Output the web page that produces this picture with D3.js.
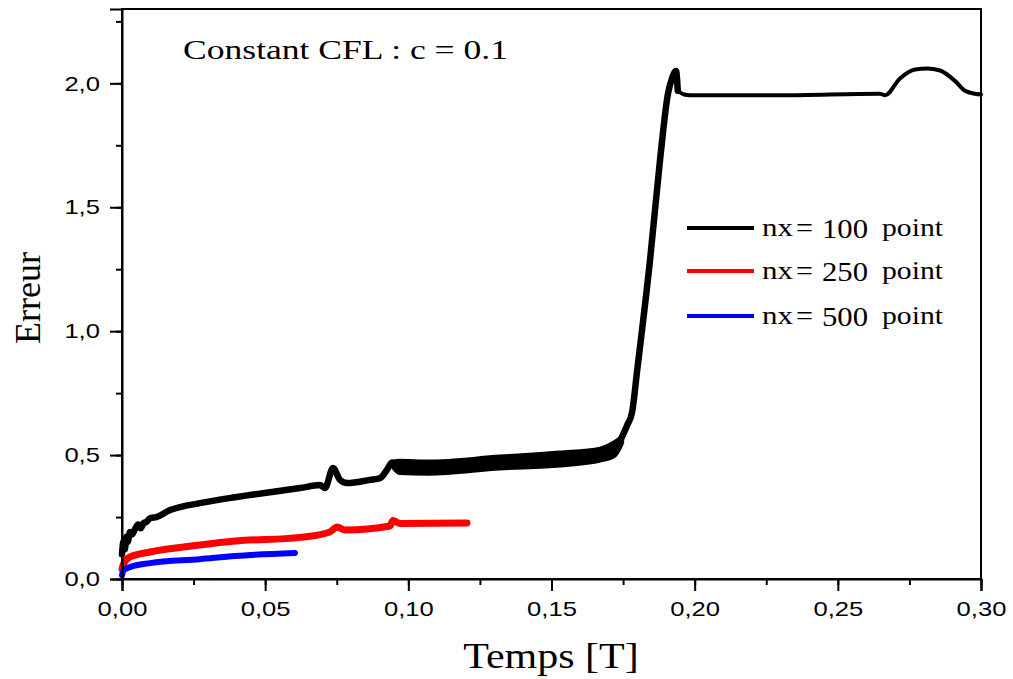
<!DOCTYPE html>
<html>
<head>
<meta charset="utf-8">
<script src="https://cdn.jsdelivr.net/npm/d3@7"></script>
<style>
html,body{margin:0;padding:0;background:#fff;}
svg{display:block;}
</style>
</head>
<body>
<svg id="chart" width="1013" height="679"></svg>
<script>
// ---- data ----
const xTicks = [0, 0.05, 0.10, 0.15, 0.20, 0.25, 0.30];
const xTickLabels = ["0,00", "0,05", "0,10", "0,15", "0,20", "0,25", "0,30"];
const yTicks = [0, 0.5, 1.0, 1.5, 2.0];
const yTickLabels = ["0,0", "0,5", "1,0", "1,5", "2,0"];

const seriesNames = ["nx = 100 point", "nx = 250 point", "nx = 500 point"];
const seriesColors = ["#000000", "#ff0000", "#0000ff"];

const blackT = [0, 0.0005, 0.001, 0.0015, 0.002, 0.0028, 0.0035, 0.0045, 0.0056, 0.0065, 0.0075, 0.0085, 0.0098, 0.012, 0.0168, 0.0272, 0.0395, 0.0447, 0.0622, 0.0691, 0.0709, 0.0737, 0.0761, 0.0786, 0.0866, 0.0901, 0.0925, 0.0943, 0.096, 0.107, 0.132, 0.153, 0.167, 0.172, 0.174, 0.1764, 0.1781, 0.1799, 0.1844, 0.1879, 0.1907, 0.1921, 0.1935, 0.1941, 0.1963, 0.1984, 0.23, 0.2647, 0.2665, 0.2717, 0.277, 0.2811, 0.2857, 0.2909, 0.2944, 0.2979, 0.30];
const blackE = [0.10, 0.15, 0.12, 0.17, 0.15, 0.19, 0.18, 0.20, 0.22, 0.205, 0.225, 0.23, 0.245, 0.25, 0.278, 0.306, 0.33, 0.339, 0.367, 0.379, 0.367, 0.448, 0.40, 0.387, 0.40, 0.407, 0.44, 0.47, 0.455, 0.45, 0.47, 0.484, 0.502, 0.53, 0.56, 0.62, 0.67, 0.84, 1.286, 1.69, 1.96, 2.02, 2.05, 1.97, 1.955, 1.952, 1.952, 1.958, 1.952, 2.02, 2.056, 2.06, 2.052, 2.01, 1.97, 1.958, 1.955];

// noisy band of the nx=100 run
const bandT  = [0.0943, 0.097, 0.107, 0.132, 0.153, 0.167, 0.172, 0.1745];
const bandLo = [0.46, 0.43, 0.427, 0.448, 0.46, 0.48, 0.50, 0.55];
const bandHi = [0.47, 0.475, 0.472, 0.492, 0.508, 0.524, 0.55, 0.57];

const redT = [0, 0.0005, 0.0028, 0.0098, 0.0272, 0.0395, 0.0622, 0.0726, 0.0751, 0.0779, 0.0936, 0.0946, 0.0971, 0.1205];
const redE = [0.04, 0.06, 0.089, 0.109, 0.137, 0.153, 0.168, 0.19, 0.21, 0.198, 0.214, 0.236, 0.224, 0.226];

const blueT = [0, 0.0005, 0.0028, 0.0098, 0.0272, 0.0395, 0.0604];
const blueE = [0.015, 0.035, 0.048, 0.064, 0.08, 0.093, 0.105];

// ---- layout ----
const svg = d3.select("#chart");
const L = 122, R = 981, T = 9, B = 579;
const x = d3.scaleLinear().domain([0, 0.30]).range([L, R]);
const y = d3.scaleLinear().domain([0, 2.3]).range([B, T]);
const SX = 1.25;

function stretch(sel, k) {
  sel.each(function () {
    const len = this.getComputedTextLength();
    d3.select(this).attr("textLength", len * (k || SX)).attr("lengthAdjust", "spacingAndGlyphs");
  });
}

const toPts = (ts, es) => ts.map((t, i) => [t, es[i]]);
const line = d3.line().x(d => x(d[0])).y(d => y(d[1])).curve(d3.curveMonotoneX);

// band
const band = d3.area().x(d => x(d.t)).y0(d => y(d.lo)).y1(d => y(d.hi)).curve(d3.curveMonotoneX);
svg.append("path")
  .datum(bandT.map((t, i) => ({t, lo: bandLo[i], hi: bandHi[i]})))
  .attr("d", band).attr("fill", "#000").attr("stroke", "#000").attr("stroke-width", 5).attr("stroke-linejoin", "round");

// series
const blackPts = toPts(blackT, blackE);
svg.append("path").datum(blackPts.filter(d => d[0] <= 0.1941))
  .attr("d", line).attr("fill", "none").attr("stroke", seriesColors[0]).attr("stroke-width", 6.5).attr("stroke-linejoin", "round").attr("stroke-linecap", "round");
svg.append("path").datum(blackPts.filter(d => d[0] >= 0.1941))
  .attr("d", line).attr("fill", "none").attr("stroke", seriesColors[0]).attr("stroke-width", 4).attr("stroke-linejoin", "round").attr("stroke-linecap", "round");
svg.append("path").datum(toPts(redT, redE))
  .attr("d", line).attr("fill", "none").attr("stroke", seriesColors[1]).attr("stroke-width", 7).attr("stroke-linejoin", "round").attr("stroke-linecap", "round");
svg.append("path").datum(toPts(blueT, blueE))
  .attr("d", line).attr("fill", "none").attr("stroke", seriesColors[2]).attr("stroke-width", 6).attr("stroke-linejoin", "round").attr("stroke-linecap", "round");

// frame
svg.append("rect").attr("x", L).attr("y", T).attr("width", R - L).attr("height", B - T)
  .attr("fill", "none").attr("stroke", "#000").attr("stroke-width", 2);

// axes
const xMinor = d3.range(0, 0.3001, 0.025);
const yMinor = d3.range(0, 2.3, 0.25);
const xAxis = svg.append("g").attr("transform", `translate(0,${B})`)
  .call(d3.axisBottom(x).tickValues(xTicks).tickFormat((d, i) => xTickLabels[i]).tickSize(12).tickPadding(10));
svg.append("g").attr("transform", `translate(0,${B})`)
  .call(d3.axisBottom(x).tickValues(xMinor).tickFormat("").tickSize(6))
  .call(g => g.select(".domain").remove());
const yAxis = svg.append("g").attr("transform", `translate(${L},0)`)
  .call(d3.axisLeft(y).tickValues(yTicks).tickFormat((d, i) => yTickLabels[i]).tickSize(12).tickPadding(10));
svg.append("g").attr("transform", `translate(${L},0)`)
  .call(d3.axisLeft(y).tickValues(yMinor).tickFormat("").tickSize(6))
  .call(g => g.select(".domain").remove());
svg.selectAll(".tick line").attr("stroke", "#000").attr("stroke-width", 2);
svg.selectAll(".domain").attr("stroke", "#000").attr("stroke-width", 2);
xAxis.selectAll("text").attr("font-family", "Liberation Sans, Arial, sans-serif").attr("font-size", 21).attr("fill", "#000").attr("dy", "0.71em");
yAxis.selectAll("text").attr("font-family", "Liberation Sans, Arial, sans-serif").attr("font-size", 21).attr("fill", "#000");
stretch(xAxis.selectAll("text"), 1.22);
stretch(yAxis.selectAll("text"), 1.22);

// axis titles
const serif = "Liberation Serif, Times New Roman, serif";
svg.append("text").attr("x", 551).attr("y", 668).attr("text-anchor", "middle")
  .attr("font-family", serif).attr("font-size", 35).text("Temps [T]").call(stretch, 1.2);
svg.append("text").attr("transform", "translate(40,298) rotate(-90)").attr("text-anchor", "middle")
  .attr("font-family", serif).attr("font-size", 36).text("Erreur").call(stretch, 1.0);

// title
svg.append("text").attr("x", 183).attr("y", 59).attr("font-family", serif).attr("font-size", 28)
  .text("Constant CFL : c = 0.1").attr("textLength", 325).attr("lengthAdjust", "spacingAndGlyphs");

// legend
const legY = [228, 271, 316];
const leg = svg.append("g");
seriesNames.forEach((name, i) => {
  const parts = name.split(" "); // nx, =, value, point
  leg.append("line").attr("x1", 687).attr("x2", 754).attr("y1", legY[i]).attr("y2", legY[i])
    .attr("stroke", seriesColors[i]).attr("stroke-width", 4);
  const by = legY[i] + 8;
  leg.append("text").attr("x", 762).attr("y", by).attr("font-family", serif).attr("font-size", 25)
    .text(parts[0]).attr("textLength", 31).attr("lengthAdjust", "spacingAndGlyphs");
  leg.append("text").attr("x", 796).attr("y", by + 1).attr("font-family", serif).attr("font-size", 28)
    .text(parts[1]).attr("textLength", 17).attr("lengthAdjust", "spacingAndGlyphs");
  leg.append("text").attr("x", 822).attr("y", by + 2).attr("font-family", serif).attr("font-size", 28)
    .text(parts[2]).attr("textLength", 46).attr("lengthAdjust", "spacingAndGlyphs");
  leg.append("text").attr("x", 882).attr("y", by).attr("font-family", serif).attr("font-size", 25)
    .text(parts[3]).attr("textLength", 61).attr("lengthAdjust", "spacingAndGlyphs");
});
</script>
</body>
</html>
